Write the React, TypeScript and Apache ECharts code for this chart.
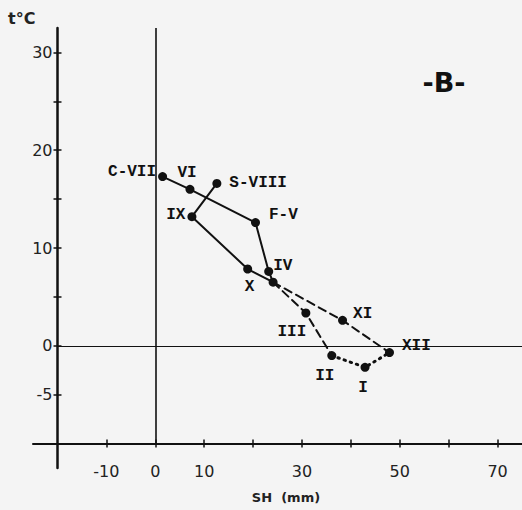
import React, { useEffect, useRef } from "react";
import * as echarts from "echarts";

// ---- data ----
const pointLabels = ["C-VII", "VI", "S-VIII", "IX", "F-V", "X", "IV", "", "III", "XI", "XII", "II", "I"];
const pointSH = [1.5, 7.1, 12.6, 7.5, 20.5, 18.9, 23.2, 24.1, 30.8, 38.3, 47.9, 36.1, 42.9];
const pointT = [17.3, 16.0, 16.6, 13.2, 12.6, 7.85, 7.6, 6.5, 3.35, 2.6, -0.7, -1.0, -2.2];

// paths as indices into the point arrays
const solidPaths = [
  [0, 1, 4, 6, 7],
  [2, 3, 5, 7],
];
const dashedPaths = [
  [7, 9, 10],
  [7, 8, 11],
];
const dottedPaths = [[11, 12, 10]];

const xTickValues = [-10, 0, 10, 20, 30, 40, 50, 60, 70];
const xLabelValues = [-10, 0, 10, 30, 50, 70];
const yTickValues = [-5, 0, 5, 10, 15, 20, 25, 30];
const yLabelValues = [-5, 0, 10, 20, 30];

const X_MIN = -25;
const X_MAX = 75;
const Y_MIN = -12.5;
const Y_MAX = 32.5;
const X_AXIS_AT = -10; // y value where the x axis is drawn
const Y_AXIS_AT = -20; // x value where the y axis is drawn

// ---- presentation ----
const GRID = { left: 33, top: 28, width: 490, height: 440 };
const labelStyles: any[] = [
  { position: "left", distance: 2, offset: [0, -5] },
  { position: "top", distance: 4, offset: [-3, 0] },
  { position: "right", distance: 8, offset: [0, 0] },
  { position: "left", distance: 2, offset: [0, -2] },
  { position: "right", distance: 9, offset: [0, -8] },
  { position: "bottom", distance: 5, offset: [2, 0] },
  { position: "right", distance: 0, offset: [0, -5] },
  { position: "right", distance: 0, offset: [0, 0] },
  { position: "bottom", distance: 4, offset: [-14, 2] },
  { position: "right", distance: 6, offset: [0, -6] },
  { position: "right", distance: 8, offset: [0, -7] },
  { position: "bottom", distance: 5, offset: [-7, 3] },
  { position: "bottom", distance: 6, offset: [-2, 2] },
];

const INK = "#111111";
const LABEL_FONT = "'Liberation Mono', 'DejaVu Sans Mono', monospace";
const SANS = "'DejaVu Sans', Verdana, sans-serif";

function pathData(idx: number[]) {
  return idx.map((i) => [pointSH[i], pointT[i]]);
}

export default function App() {
  const ref = useRef<HTMLDivElement>(null);

  useEffect(() => {
    if (!ref.current) return;
    const chart = echarts.init(ref.current, undefined, { renderer: "svg" });

    const xOffset = -((X_AXIS_AT - Y_MIN) / (Y_MAX - Y_MIN)) * GRID.height;
    const yOffset = -((Y_AXIS_AT - X_MIN) / (X_MAX - X_MIN)) * GRID.width;

    const baseX = {
      type: "value",
      min: X_MIN,
      max: X_MAX,
      position: "bottom",
      offset: xOffset,
      splitLine: { show: false },
    };
    const baseY = {
      type: "value",
      min: Y_MIN,
      max: Y_MAX,
      position: "left",
      offset: yOffset,
      splitLine: { show: false },
    };

    const lineSeries = (paths: number[][], type: any, width: number) =>
      paths.map((p) => ({
        type: "line",
        data: pathData(p),
        symbol: "none",
        silent: true,
        lineStyle: { color: INK, width, type, cap: "round", opacity: 1 },
        z: 2,
      }));

    const tickLabel = {
      margin: 0,
      fontSize: 16,
      fontFamily: SANS,
      color: "#222",
    };

    const option: any = {
      animation: false,
      backgroundColor: "#f4f4f4",
      grid: { ...GRID, containLabel: false },
      xAxis: [
        {
          ...baseX,
          axisLine: { show: true, onZero: false, lineStyle: { color: INK, width: 2 } },
          axisTick: { show: true, length: 4, customValues: xTickValues, lineStyle: { color: INK, width: 1.5 } },
          axisLabel: { ...tickLabel, customValues: xLabelValues, margin: 20 },
        },
        {
          ...baseX,
          axisLine: { show: false, onZero: false },
          axisTick: { show: true, inside: true, length: 4, customValues: xTickValues, lineStyle: { color: INK, width: 1.5 } },
          axisLabel: { show: false },
        },
      ],
      yAxis: [
        {
          ...baseY,
          axisLine: { show: true, onZero: false, lineStyle: { color: INK, width: 2.5 } },
          axisTick: { show: true, length: 4, customValues: yTickValues, lineStyle: { color: INK, width: 1.5 } },
          axisLabel: { ...tickLabel, customValues: yLabelValues, margin: 5 },
        },
        {
          ...baseY,
          axisLine: { show: false, onZero: false },
          axisTick: { show: true, inside: true, length: 4, customValues: yTickValues, lineStyle: { color: INK, width: 1.5 } },
          axisLabel: { show: false },
        },
      ],
      series: [
        {
          type: "line",
          data: [],
          silent: true,
          markLine: {
            silent: true,
            symbol: "none",
            label: { show: false },
            animation: false,
            data: [
              [
                { coord: [0, X_AXIS_AT], lineStyle: { color: INK, width: 1.6, type: "solid", opacity: 1 } },
                { coord: [0, Y_MAX] },
              ],
              [
                { coord: [Y_AXIS_AT, 0], lineStyle: { color: INK, width: 1, type: "solid", opacity: 1 } },
                { coord: [X_MAX, 0] },
              ],
            ],
          },
        },
        ...lineSeries(solidPaths, "solid", 2),
        ...lineSeries(dashedPaths, [8, 5], 2),
        ...lineSeries(dottedPaths, [1.5, 5], 3),
        {
          type: "scatter",
          symbolSize: 9,
          itemStyle: { color: INK, opacity: 1 },
          z: 3,
          data: pointSH.map((x, i) => ({
            value: [x, pointT[i]],
            label: {
              show: pointLabels[i] !== "",
              formatter: pointLabels[i],
              color: "#111",
              opacity: 1,
              fontFamily: LABEL_FONT,
              fontWeight: "bold",
              fontSize: 16,
              ...labelStyles[i],
            },
          })),
        },
      ],
      graphic: [
        {
          type: "text",
          left: 8,
          top: 10,
          style: { text: "t°C", fontSize: 16, fontWeight: "bold", fontFamily: SANS, fill: "#222" },
        },
        {
          type: "text",
          x: 286,
          y: 497,
          style: {
            text: "SH  (mm)",
            fontSize: 13,
            fontWeight: "bold",
            fontFamily: SANS,
            fill: "#222",
            align: "center",
            verticalAlign: "middle",
          },
        },
        {
          type: "text",
          x: 444,
          y: 82,
          style: {
            text: "-B-",
            fontSize: 27,
            fontWeight: "bold",
            fontFamily: SANS,
            fill: "#111",
            align: "center",
            verticalAlign: "middle",
          },
        },
      ],
    };

    chart.setOption(option);
    return () => chart.dispose();
  }, []);

  return (
    <div
      ref={ref}
      style={{ position: "absolute", left: 0, top: 0, width: 522, height: 510 }}
    />
  );
}
